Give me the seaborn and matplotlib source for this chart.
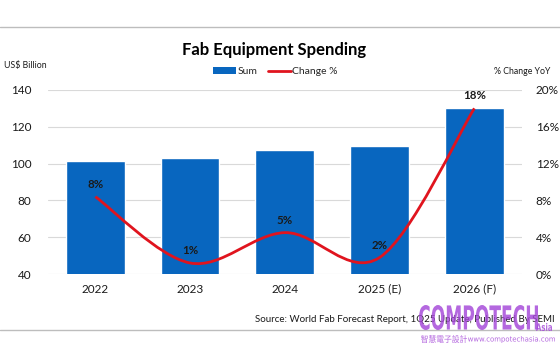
import matplotlib
matplotlib.use("Agg")
import matplotlib.pyplot as plt
import seaborn as sns
import pandas as pd
import numpy as np
from matplotlib.path import Path
from matplotlib.patches import PathPatch, Patch
from matplotlib.lines import Line2D
from matplotlib.textpath import TextPath
from matplotlib.font_manager import FontProperties
from matplotlib.transforms import Affine2D

years = ["2022", "2023", "2024", "2025 (E)", "2026 (F)"]
spending = [101.5, 103, 107.5, 109.8, 130]
change_pct = [8.4, 1.2, 4.5, 1.8, 18.0]
change_labels = ["8%", "1%", "5%", "2%", "18%"]
left_ticks = [40, 60, 80, 100, 120, 140]
right_ticks = [0, 4, 8, 12, 16, 20]

sns.set_theme(style="white")
plt.rcParams['font.family'] = ['Lato', 'DejaVu Sans']

BLUE = "#0866bf"
RED = "#e0141e"
TXT = "#1a1a1a"
W, H = 560, 350

fig = plt.figure(figsize=(5.6, 3.5), dpi=100)
ax = fig.add_axes([0.0857, 0.217, 0.846, 0.526])
df = pd.DataFrame({"year": years, "spending": spending})
sns.barplot(data=df, x="year", y="spending", color=BLUE, saturation=1, width=0.62, ax=ax, zorder=2)
ax.set_ylim(40, 140)
ax.set_xlim(-0.5, 4.5)
ax.set_yticks(left_ticks)
ax.set_xlabel("")
ax.set_ylabel("")
ax.grid(axis="y", color="#d9d9d9", linewidth=0.8, zorder=0)
ax.set_axisbelow(True)
for s in ax.spines.values():
    s.set_visible(False)
ax.tick_params(axis="y", length=0, labelsize=8.5, labelcolor=TXT, pad=12)
ax.tick_params(axis="x", length=0, labelsize=8.5, labelcolor=TXT, pad=7)

ax2 = ax.twinx()
ax2.set_ylim(0, 20)
ax2.set_yticks(right_ticks)
ax2.set_yticklabels([f"{t}%" for t in right_ticks])
ax2.tick_params(axis="y", length=0, labelsize=8.5, labelcolor=TXT, pad=10)
for s in ax2.spines.values():
    s.set_visible(False)
ax2.grid(False)

# smooth (Catmull-Rom as Bezier) line through data points
xs = list(range(len(change_pct)))
pts = list(zip(xs, change_pct))
verts = [pts[0]]
codes = [Path.MOVETO]
n = len(pts)
for i in range(n - 1):
    p0 = pts[i - 1] if i > 0 else pts[i]
    p1 = pts[i]
    p2 = pts[i + 1]
    p3 = pts[i + 2] if i + 2 < n else pts[i + 1]
    c1 = (p1[0] + (p2[0] - p0[0]) / 6, p1[1] + (p2[1] - p0[1]) / 6)
    c2 = (p2[0] - (p3[0] - p1[0]) / 6, p2[1] - (p3[1] - p1[1]) / 6)
    verts += [c1, c2, p2]
    codes += [Path.CURVE4] * 3
ax2.add_patch(PathPatch(Path(verts, codes), facecolor="none", edgecolor=RED, linewidth=2, zorder=3, capstyle="butt"))

for x, y, lab in zip(xs, change_pct, change_labels):
    ax2.annotate(lab, (x, y), xytext=(0, 5), textcoords="offset points",
                 ha="center", va="bottom", fontsize=8.3, fontweight="bold", color=TXT)

# titles and labels
fig.text(0.489, 0.858, "Fab Equipment Spending", ha="center", va="center",
         fontsize=12, fontweight="bold", color="black")
fig.text(0.008, 0.812, "US$ Billion", ha="left", va="center", fontsize=6.3, color=TXT)
fig.text(0.982, 0.795, "% Change YoY", ha="right", va="center", fontsize=6.3, color=TXT)

handles = [Patch(facecolor=BLUE, edgecolor="none"), Line2D([0], [0], color=RED, lw=2)]
fig.legend(handles, ["Sum", "Change %"], loc="center", bbox_to_anchor=(0.492, 0.795),
           ncol=2, frameon=False, fontsize=7.5, handlelength=2.2, handleheight=0.6,
           columnspacing=1.0, handletextpad=0.15)

fig.text(0.99, 0.086, "Source: World Fab Forecast Report, 1Q25 Update, Published By SEMI",
         ha="right", va="center", fontsize=7, color=TXT)

# decorative rules
fig.add_artist(Line2D([0, 1], [1 - 27 / H, 1 - 27 / H], color="#bdbdbd", lw=1, transform=fig.transFigure))
fig.add_artist(Line2D([0, 1], [1 - 330 / H, 1 - 330 / H], color="#bdbdbd", lw=1, transform=fig.transFigure))

# watermark drawn as text outlines fitted into a pixel box
PURP = "#a447d8"


def boxed_text(s, family, x0, x1, ytop, ybot, weight="normal"):
    prop = FontProperties(family=family, weight=weight)
    tp = TextPath((0, 0), s, size=10, prop=prop)
    ext = tp.get_extents()
    sx = (x1 - x0) / ext.width
    sy = (ybot - ytop) / ext.height
    tr = (Affine2D().translate(-ext.x0, -ext.y0).scale(sx, sy)
          .translate(x0, H - ybot).scale(1 / W, 1 / H))
    path = tr.transform_path(tp)
    fig.add_artist(PathPatch(path, facecolor=PURP, edgecolor="none", alpha=0.82,
                             transform=fig.transFigure, zorder=10))


boxed_text("COMPOTECH", "DejaVu Sans", 419, 538, 305, 330, weight="bold")
boxed_text("Asia", "DejaVu Sans", 536, 552, 323, 331, weight="bold")
boxed_text("智慧電子設計", "Noto Sans CJK TC", 421, 467, 335, 343)
boxed_text("www.compotechasia.com", "DejaVu Sans", 468, 555, 336, 343)

fig.savefig("out.png", dpi=100, facecolor="white")
